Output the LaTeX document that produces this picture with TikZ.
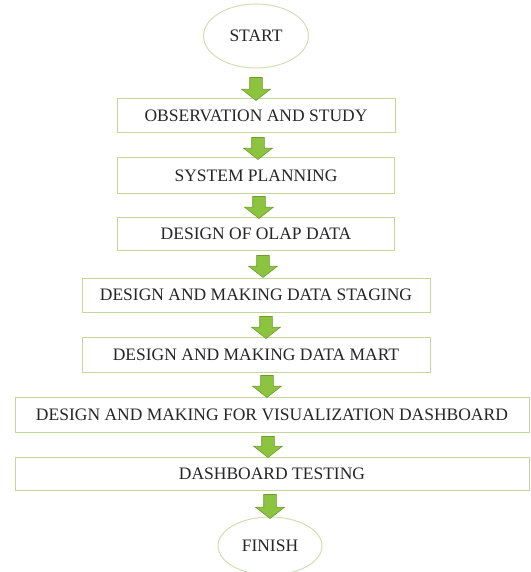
\documentclass[tikz,border=0pt]{standalone}
\usepackage{fontspec}
\setmainfont{Liberation Serif}
\usetikzlibrary{shapes.geometric,shapes.arrows}
\definecolor{boxline}{HTML}{C4D79B}
\definecolor{ovalline}{HTML}{D3DFB0}
\definecolor{arrfill}{HTML}{8CC43F}
\definecolor{arrline}{HTML}{6E9A2E}
\definecolor{txt}{HTML}{262626}
\tikzset{
  stepbox/.style={draw=boxline, line width=1pt, fill=white, rectangle, inner sep=0pt,
    font=\fontsize{17.5}{19}\selectfont, text=txt},
  terminal/.style={draw=ovalline, line width=1pt, fill=white, ellipse, inner sep=0pt,
    font=\fontsize{17.5}{19}\selectfont, text=txt},
  fatarrow/.style={single arrow, draw=arrline, fill=arrfill, line width=0.6pt,
    rotate=-90, inner sep=0pt, text height=12pt, text depth=0pt, text width=0pt,
    minimum width=28pt, single arrow head extend=8pt,
    single arrow head indent=0pt, single arrow tip angle=104}
}
\begin{document}
\begin{tikzpicture}[x=1pt,y=-1pt]
\useasboundingbox (0,0) rectangle (530,572);
\node[terminal, minimum width=105pt, minimum height=64pt] (start) at (256,36) {START};
\node[stepbox, minimum width=278pt, minimum height=34pt] (s1) at (256,116) {OBSERVATION AND STUDY};
\node[stepbox, minimum width=277pt, minimum height=35pt] (s2) at (256,175.5) {SYSTEM PLANNING};
\node[stepbox, minimum width=277pt, minimum height=33pt] (s3) at (256,233.5) {DESIGN OF OLAP DATA};
\node[stepbox, minimum width=348pt, minimum height=34pt] (s4) at (256,295) {DESIGN AND MAKING DATA STAGING};
\node[stepbox, minimum width=348pt, minimum height=35pt] (s5) at (256,354.5) {DESIGN AND MAKING DATA MART};
\node[stepbox, minimum width=514pt, minimum height=35pt] (s6) at (272,414.5) {DESIGN AND MAKING FOR VISUALIZATION DASHBOARD};
\node[stepbox, minimum width=514pt, minimum height=33pt] (s7) at (272,473.5) {DASHBOARD TESTING};
\node[terminal, minimum width=104pt, minimum height=58pt] (finish) at (270,546) {FINISH};
\node[fatarrow, minimum height=23pt] (a1) at (256,86.5) {};
\node[fatarrow, minimum height=22pt] (a2) at (258,146) {};
\node[fatarrow, minimum height=22pt] (a3) at (259,205) {};
\node[fatarrow, minimum height=22pt] (a4) at (263,264) {};
\node[fatarrow, minimum height=22pt] (a5) at (266,325) {};
\node[fatarrow, minimum height=22pt] (a6) at (267,384) {};
\node[fatarrow, minimum height=21pt] (a7) at (268,444.5) {};
\node[fatarrow, minimum height=24pt] (a8) at (270,504) {};
\end{tikzpicture}
\end{document}
